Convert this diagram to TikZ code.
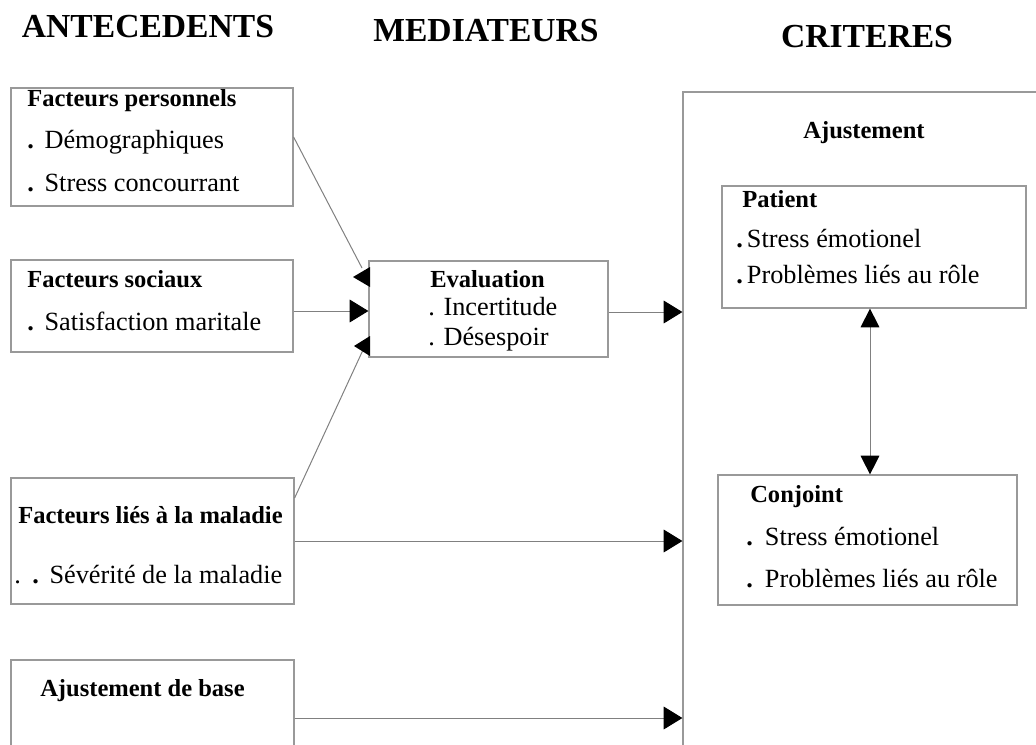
\documentclass[tikz,border=0pt]{standalone}
\usepackage{fontspec}
\setmainfont{Liberation Serif}
\usetikzlibrary{arrows.meta,fit}
\newcommand\bul[1][13pt]{\makebox[#1][l]{\bfseries .}}
\begin{document}
\begin{tikzpicture}[x=0.75pt,y=-0.75pt,
  box/.style={draw=black!40, line width=0.9pt, inner sep=0pt},
  conn/.style={draw=black!50, line width=0.75pt},
  arr/.style={conn, -{Triangle[length=14pt,width=17pt,color=black]}},
  dbl/.style={conn, {Triangle[length=14pt,width=14pt,color=black]}-{Triangle[length=14pt,width=14pt,color=black]}},
  tri/.style={fill=black},
  head/.style={font=\fontsize{18.4}{20}\selectfont\bfseries, anchor=base west, inner sep=0pt},
  item/.style={font=\fontsize{19.7}{22}\selectfont, anchor=base west, inner sep=0pt},
  ttl/.style={font=\fontsize{25.2}{28}\selectfont\bfseries, anchor=base, inner sep=0pt}]
\useasboundingbox (0,0) rectangle (1036,744);
\clip (0,0) rectangle (1036,744);

% titles
\node[ttl] (t-ant) at (148,37) {ANTECEDENTS};
\node[ttl] (t-med) at (486,41) {MEDIATEURS};
\node[ttl] (t-cri) at (867,47) {CRITERES};

% boxes
\node[box, fit={(11,88) (293,206)}] (fp) {};
\node[box, fit={(11,260) (293,352)}] (fs) {};
\node[box, fit={(11,478) (294,604)}] (flm) {};
\node[box, fit={(11,660) (294,770)}] (ab) {};
\node[box, fit={(369,261) (608,357)}] (ev) {};
\node[box, fit={(683,92) (1060,770)}] (crit) {};
\node[box, fit={(722,186) (1026,308)}] (pat) {};
\node[box, fit={(718,475) (1017,605)}] (conj) {};

% texts
\node[head] (fp-h) at (27,106) {Facteurs personnels};
\node[item] (fp-1) at (27,148) {\bul Démographiques};
\node[item] (fp-2) at (27,191) {\bul Stress concourrant};

\node[head] (fs-h) at (27,287) {Facteurs sociaux};
\node[item] (fs-1) at (27,330) {\bul Satisfaction maritale};

\node[head] (flm-h) at (18,523) {Facteurs liés à la maladie};
\node[item] (flm-1) at (14,583) {\makebox[13.5pt][l]{.}\bul Sévérité de la maladie};

\node[head] (ab-h) at (40,696) {Ajustement de base};

\node[head] (ev-h) at (430,287) {Evaluation};
\node[item] (ev-1) at (428,315) {. Incertitude};
\node[item] (ev-2) at (428,345) {. Désespoir};

\node[head, anchor=base] (crit-h) at (864,138) {Ajustement};

\node[head] (pat-h) at (742,207) {Patient};
\node[item] (pat-1) at (736,247) {\bul[8pt]Stress émotionel};
\node[item] (pat-2) at (736,283) {\bul[8pt]Problèmes liés au rôle};

\node[head] (conj-h) at (750,502) {Conjoint};
\node[item] (conj-1) at (746,545) {\bul[14pt]Stress émotionel};
\node[item] (conj-2) at (746,587) {\bul[14pt]Problèmes liés au rôle};

% connectors
\coordinate (e1) at (362,268);
\coordinate (e3) at (363,350);
\draw[conn] (fp.east |- 0,137) -- (e1);
\fill[tri] (353,277) -- (370,267) -- (370,287) -- cycle;
\draw[arr] (fs.east |- 0,311) -- (ev.west |- 0,311);
\draw[conn] (flm.east |- 0,498) -- (e3);
\fill[tri] (354,346) -- (370,336) -- (370,356) -- cycle;

\draw[arr] (ev.east |- 0,312) -- (crit.west |- 0,312);
\draw[arr] (flm.east |- 0,541) -- (crit.west |- 0,541);
\draw[arr] (ab.east |- 0,718) -- (crit.west |- 0,718);

\draw[dbl] (pat.south -| 870,0) -- (conj.north -| 870,0);
\end{tikzpicture}
\end{document}
